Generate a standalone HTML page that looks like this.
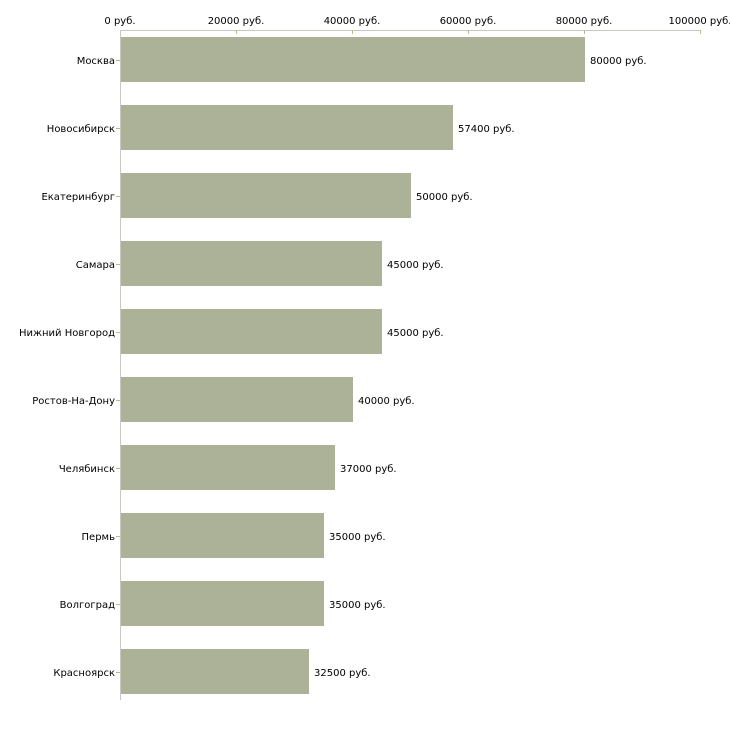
<!DOCTYPE html><html><head><meta charset="utf-8"><style>body{margin:0;background:#fff;overflow:hidden}</style></head><body>
<svg width="730" height="730" xmlns="http://www.w3.org/2000/svg" font-family="'DejaVu Sans','Liberation Sans',sans-serif" font-size="10" fill="#000">
<line x1="120" y1="30.5" x2="700" y2="30.5" stroke="#c8c8c0"/>
<line x1="120.5" y1="30" x2="120.5" y2="700" stroke="#c8c8c0"/>
<g stroke="#b8b890">
<line x1="236.5" y1="30" x2="236.5" y2="34"/><line x1="352.5" y1="30" x2="352.5" y2="34"/><line x1="468.5" y1="30" x2="468.5" y2="34"/><line x1="584.5" y1="30" x2="584.5" y2="34"/><line x1="700.5" y1="30" x2="700.5" y2="34"/>
</g>
<g text-anchor="middle">
<text x="120" y="24">0 руб.</text><text x="236" y="24">20000 руб.</text><text x="352" y="24">40000 руб.</text><text x="468" y="24">60000 руб.</text><text x="584" y="24">80000 руб.</text><text x="700" y="24">100000 руб.</text>
</g>
<g fill="#acb297">
<rect x="121" y="37" width="464" height="45"/>
<rect x="121" y="105" width="332" height="45"/>
<rect x="121" y="173" width="290" height="45"/>
<rect x="121" y="241" width="261" height="45"/>
<rect x="121" y="309" width="261" height="45"/>
<rect x="121" y="377" width="232" height="45"/>
<rect x="121" y="445" width="214" height="45"/>
<rect x="121" y="513" width="203" height="45"/>
<rect x="121" y="581" width="203" height="45"/>
<rect x="121" y="649" width="188" height="45"/>
</g>
<g stroke="#b8b890">
<line x1="116" y1="60.5" x2="120" y2="60.5"/><line x1="116" y1="128.5" x2="120" y2="128.5"/><line x1="116" y1="196.5" x2="120" y2="196.5"/><line x1="116" y1="264.5" x2="120" y2="264.5"/><line x1="116" y1="332.5" x2="120" y2="332.5"/><line x1="116" y1="400.5" x2="120" y2="400.5"/><line x1="116" y1="468.5" x2="120" y2="468.5"/><line x1="116" y1="536.5" x2="120" y2="536.5"/><line x1="116" y1="604.5" x2="120" y2="604.5"/><line x1="116" y1="672.5" x2="120" y2="672.5"/>
</g>
<g text-anchor="end">
<text x="115" y="64">Москва</text><text x="115" y="132">Новосибирск</text><text x="115" y="200">Екатеринбург</text><text x="115" y="268">Самара</text><text x="115" y="336">Нижний Новгород</text><text x="115" y="404">Ростов-На-Дону</text><text x="115" y="472">Челябинск</text><text x="115" y="540">Пермь</text><text x="115" y="608">Волгоград</text><text x="115" y="676">Красноярск</text>
</g>
<g>
<text x="590" y="64">80000 руб.</text><text x="458" y="132">57400 руб.</text><text x="416" y="200">50000 руб.</text><text x="387" y="268">45000 руб.</text><text x="387" y="336">45000 руб.</text><text x="358" y="404">40000 руб.</text><text x="340" y="472">37000 руб.</text><text x="329" y="540">35000 руб.</text><text x="329" y="608">35000 руб.</text><text x="314" y="676">32500 руб.</text>
</g>
</svg>
</body></html>
